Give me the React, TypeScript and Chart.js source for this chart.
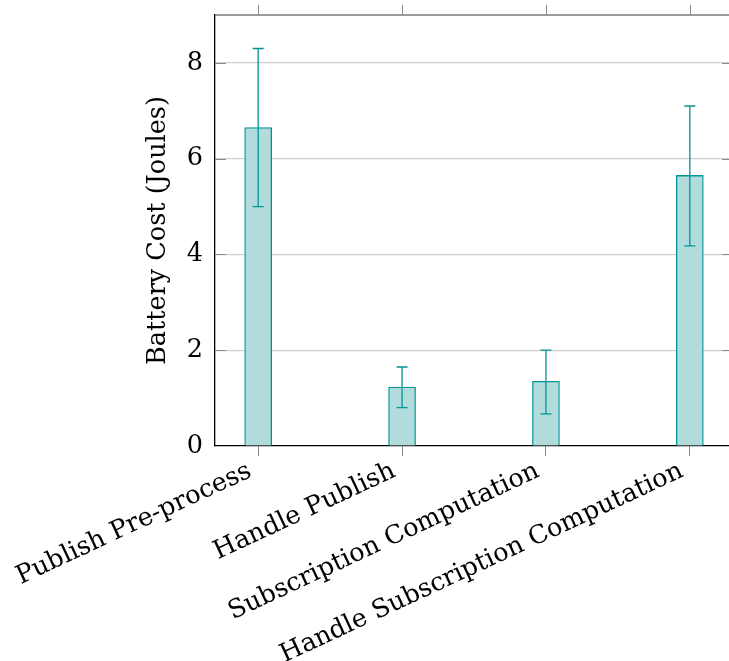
import React, { useEffect, useRef } from "react";
import { Chart, registerables } from "chart.js";

Chart.register(...registerables);

const categories = [
  "Publish Pre-process",
  "Handle Publish",
  "Subscription Computation",
  "Handle Subscription Computation",
];
const values = [6.65, 1.23, 1.35, 5.65];
const errLow = [5.0, 0.8, 0.67, 4.18];
const errHigh = [8.3, 1.65, 2.0, 7.1];
const yTicks = [0, 2, 4, 6, 8];

const FONT = "DejaVu Serif";
const FSIZE = 25.5;
const TEAL = "rgb(0,148,148)";
const FILL = "rgb(178,220,220)";

const decorPlugin = {
  id: "decor",
  afterDatasetsDraw(chart: any) {
    const { ctx, chartArea } = chart;
    const xs = chart.scales.x;
    const ys = chart.scales.y;
    ctx.save();
    // error bars
    ctx.strokeStyle = TEAL;
    ctx.lineWidth = 1.3;
    for (let i = 0; i < values.length; i++) {
      const x = xs.getPixelForValue(i);
      const lo = ys.getPixelForValue(errLow[i]);
      const hi = ys.getPixelForValue(errHigh[i]);
      ctx.beginPath();
      ctx.moveTo(x, lo);
      ctx.lineTo(x, hi);
      ctx.moveTo(x - 5.5, lo);
      ctx.lineTo(x + 5.5, lo);
      ctx.moveTo(x - 5.5, hi);
      ctx.lineTo(x + 5.5, hi);
      ctx.stroke();
    }
    // top spine
    ctx.strokeStyle = "#7a7a7a";
    ctx.lineWidth = 1.5;
    ctx.beginPath();
    ctx.moveTo(chartArea.left, chartArea.top);
    ctx.lineTo(chartArea.right, chartArea.top);
    ctx.stroke();
    // right spine
    ctx.strokeStyle = "#000";
    ctx.lineWidth = 1.3;
    ctx.beginPath();
    ctx.moveTo(chartArea.right, chartArea.top);
    ctx.lineTo(chartArea.right, chartArea.bottom);
    ctx.stroke();
    // top tick marks
    ctx.strokeStyle = "#8a8a8a";
    ctx.lineWidth = 1;
    for (let i = 0; i < categories.length; i++) {
      const x = Math.round(xs.getPixelForValue(i)) + 0.5;
      ctx.beginPath();
      ctx.moveTo(x, chartArea.top);
      ctx.lineTo(x, chartArea.top - 10);
      ctx.stroke();
    }
    // y tick marks inside, both sides
    for (const v of yTicks) {
      if (v === 0) continue;
      const y = Math.round(ys.getPixelForValue(v)) + 0.5;
      ctx.beginPath();
      ctx.moveTo(chartArea.left, y);
      ctx.lineTo(chartArea.left + 11, y);
      ctx.moveTo(chartArea.right, y);
      ctx.lineTo(chartArea.right - 11, y);
      ctx.stroke();
    }
    ctx.restore();
  },
};

export default function App() {
  const ref = useRef<HTMLCanvasElement | null>(null);
  useEffect(() => {
    if (!ref.current) return;
    const chart = new Chart(ref.current, {
      type: "bar",
      data: {
        datasets: [
          {
            data: categories.map((_, i) => ({ x: i, y: values[i] })) as any,
            backgroundColor: FILL,
            borderColor: TEAL,
            borderWidth: 1.3,
            barThickness: 27,
          },
        ],
      },
      options: {
        responsive: false,
        animation: false,
        layout: { padding: { left: 143, right: 12, top: 15, bottom: 0 } },
        plugins: { legend: { display: false }, tooltip: { enabled: false } },
        scales: {
          x: {
            type: "linear",
            min: -0.3,
            max: 3.3,
            offset: false,
            afterBuildTicks: (s: any) => {
              s.ticks = categories.map((_, i) => ({ value: i }));
            },
            afterFit: (s: any) => {
              s.height = 215;
              s.paddingTop = 0;
              s.paddingBottom = 0;
            },
            ticks: {
              autoSkip: false,
              minRotation: 25,
              maxRotation: 25,
              padding: 0,
              labelOffset: -8,
              color: "#000",
              font: { family: FONT, size: FSIZE },
              callback: (v: any) => categories[Math.round(Number(v))] ?? "",
            },
            grid: {
              offset: false,
              drawOnChartArea: false,
              drawTicks: true,
              tickLength: 10,
              color: "#8a8a8a",
            },
            border: { display: true, color: "#000", width: 1.3 },
          },
          y: {
            min: 0,
            max: 9,
            afterBuildTicks: (s: any) => {
              s.ticks = yTicks.map((v) => ({ value: v }));
            },
            afterFit: (s: any) => {
              s.width = 72;
              s.paddingTop = 0;
              s.paddingBottom = 0;
            },
            ticks: {
              padding: 12,
              color: "#000",
              font: { family: FONT, size: FSIZE },
            },
            grid: {
              drawTicks: false,
              color: (c: any) => (c.tick && c.tick.value === 0 ? "rgba(0,0,0,0)" : "#cfcfcf"),
              lineWidth: 1.2,
            },
            border: { display: true, color: "#000", width: 1.3 },
            title: {
              display: true,
              text: "Battery Cost (Joules)",
              color: "#000",
              font: { family: FONT, size: FSIZE },
              padding: { top: 0, bottom: 0 },
            },
          },
        },
      },
      plugins: [decorPlugin],
    });
    return () => chart.destroy();
  }, []);
  return (
    <div
      style={{
        position: "fixed",
        left: 0,
        top: 0,
        width: 729,
        height: 661,
        overflow: "hidden",
        background: "#fff",
      }}
    >
      <canvas ref={ref} width={745} height={661} style={{ display: "block" }} />
    </div>
  );
}
